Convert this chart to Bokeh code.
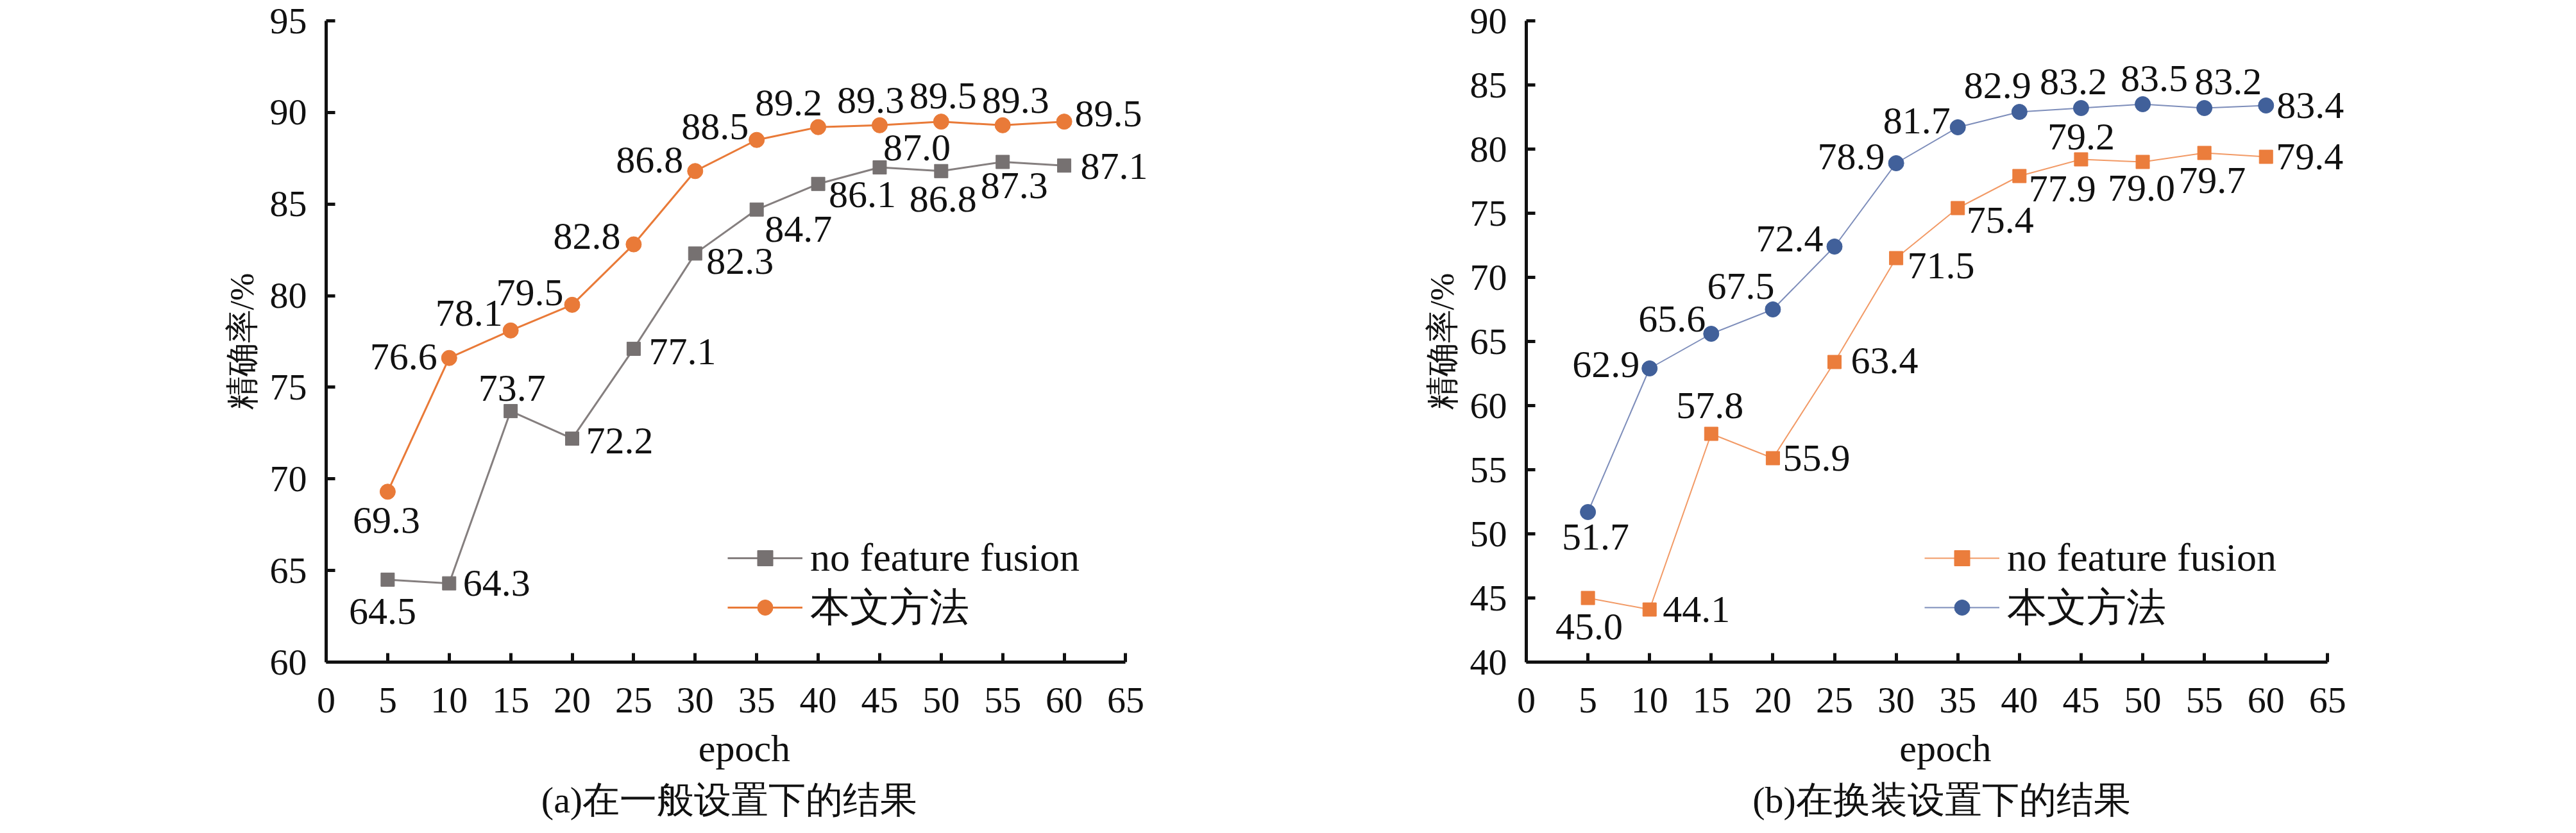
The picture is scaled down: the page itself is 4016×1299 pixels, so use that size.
from bokeh.plotting import figure
from bokeh.models import (Range1d, FixedTicker, ColumnDataSource, LabelSet, Legend,
                          LegendItem, Div, Spacer)
from bokeh.layouts import row, column
from bokeh.embed import file_html
from bokeh.resources import INLINE
from bokeh.core.properties import value

# ---------------- data ----------------
epochs = [5, 10, 15, 20, 25, 30, 35, 40, 45, 50, 55, 60]
a_no_fusion = [64.5, 64.3, 73.7, 72.2, 77.1, 82.3, 84.7, 86.1, 87.0, 86.8, 87.3, 87.1]
a_ours = [69.3, 76.6, 78.1, 79.5, 82.8, 86.8, 88.5, 89.2, 89.3, 89.5, 89.3, 89.5]
b_no_fusion = [45.0, 44.1, 57.8, 55.9, 63.4, 71.5, 75.4, 77.9, 79.2, 79.0, 79.7, 79.4]
b_ours = [51.7, 62.9, 65.6, 67.5, 72.4, 78.9, 81.7, 82.9, 83.2, 83.5, 83.2, 83.4]
x_ticks = [0, 5, 10, 15, 20, 25, 30, 35, 40, 45, 50, 55, 60, 65]
a_y_ticks = [60, 65, 70, 75, 80, 85, 90, 95]
b_y_ticks = [40, 45, 50, 55, 60, 65, 70, 75, 80, 85, 90]
series_names = ["no feature fusion", "本文方法"]
captions = ["(a)在一般设置下的结果", "(b)在换装设置下的结果"]
x_title = "epoch"
y_title = "精确率/%"

# ---------------- label placement (screen px: dx right, dy down) ----------------
a_no_fusion_dx = [-8, 74, 2, 74, 76, 70, 65, 69, 58, 3, 18, 78]
a_no_fusion_dy = [50, 0, -36, 4, 5, 12, 31, 17, -31, 44, 37, 1]
a_ours_dx = [-2, -71, -65, -66, -73, -71, -65, -46, -14, 3, 20, 69]
a_ours_dy = [45, -2, -27, -19, -13, -17, -21, -38, -39, -40, -39, -12]
b_no_fusion_dx = [2, 73, -2, 68, 78, 70, 66, 67, 0, -2, 12, 68]
b_no_fusion_dy = [45, 0, -44, 0, -2, 12, 19, 20, -35, 41, 43, 0]
b_ours_dx = [12, -68, -61, -50, -70, -70, -64, -34, -12, 18, 37, 69]
b_ours_dy = [39, -6, -23, -36, -12, -10, -10, -41, -41, -40, -41, 0]

FONT = "Liberation Serif"
NUM_SIZE = "60px"
TICK_SIZE = "58px"


def make_panel(y_lo, y_hi, y_ticks, s1, s2, dx1, dy1, dx2, dy2, style1, style2,
               borders, legend_x, legend_ys):
    p = figure(width=2000, height=1237, output_backend="svg", toolbar_location=None,
               x_range=Range1d(0, 68), y_range=Range1d(y_lo, y_hi),
               min_border_left=borders[0], min_border_right=borders[1],
               min_border_top=borders[2], min_border_bottom=borders[3])
    p.outline_line_color = None
    p.xgrid.visible = False
    p.ygrid.visible = False
    p.background_fill_color = "white"

    for ax, ticks in ((p.xaxis[0], x_ticks), (p.yaxis[0], y_ticks)):
        ax.ticker = FixedTicker(ticks=ticks)
        ax.minor_tick_line_color = None
        ax.major_tick_in = 14
        ax.major_tick_out = 0
        ax.major_tick_line_width = 5
        ax.axis_line_width = 5
        ax.axis_line_color = "#111111"
        ax.major_tick_line_color = "#111111"
        ax.major_label_text_font = FONT
        ax.major_label_text_font_size = TICK_SIZE
        ax.major_label_text_color = "#111111"
        ax.axis_label_text_font = FONT
        ax.axis_label_text_font_style = "normal"
        ax.axis_label_text_color = "#111111"
    p.xaxis.bounds = (0, 65)
    p.xaxis.major_label_standoff = 40
    p.yaxis.major_label_standoff = 30
    p.xaxis.axis_label = x_title
    p.xaxis.axis_label_text_font_size = "60px"
    p.xaxis.axis_label_standoff = 20
    p.yaxis.axis_label = y_title
    p.yaxis.axis_label_text_font_size = "52px"
    p.yaxis.axis_label_standoff = 12

    renderers = []
    for ys, dxs, dys, st in ((s1, dx1, dy1, style1), (s2, dx2, dy2, style2)):
        src = ColumnDataSource(dict(x=epochs, y=ys, lab=["%.1f" % v for v in ys],
                                    dx=dxs, dy=[-d for d in dys]))
        ln = p.line("x", "y", source=src, line_color=st["line"], line_width=st["lw"])
        if st["marker"] == "square":
            mk = p.scatter("x", "y", source=src, marker="square", size=21,
                           fill_color=st["color"], line_color=st["color"])
        else:
            mk = p.scatter("x", "y", source=src, marker="circle", size=24,
                           fill_color=st["color"], line_color=st["color"])
        renderers.append([ln, mk])
        labels = LabelSet(x="x", y="y", text="lab", source=src, x_offset="dx", y_offset="dy",
                          text_align="center", text_baseline="middle",
                          text_font=value(FONT), text_font_size=value(NUM_SIZE),
                          text_color="#111111")
        p.add_layout(labels)

    for name, rends, ly in zip(series_names, renderers, legend_ys):
        legend = Legend(items=[LegendItem(label=name, renderers=rends)],
                        location=(legend_x, ly), glyph_width=117, glyph_height=60,
                        label_height=56, label_standoff=12, spacing=0, padding=0, margin=0,
                        border_line_alpha=0, background_fill_alpha=0,
                        label_text_font=FONT, label_text_font_size="62px",
                        label_text_color="#111111")
        p.add_layout(legend)
    return p


def caption_div(text, w):
    return Div(text=text, width=w, height=46,
               styles={"font-family": FONT, "font-size": "58px", "line-height": "12px",
                       "text-align": "center", "color": "#111111", "white-space": "nowrap",
                       "overflow": "visible"})


left = make_panel(60, 95, a_y_ticks, a_no_fusion, a_ours,
                  a_no_fusion_dx, a_no_fusion_dy, a_ours_dx, a_ours_dy,
                  dict(color="#767171", line="#857f7f", lw=3, marker="square"),
                  dict(color="#E97A38", line="#E97A38", lw=3, marker="circle"),
                  (508, 188, 26, 205), 626, (127, 43))
right = make_panel(40, 90, b_y_ticks, b_no_fusion, b_ours,
                   b_no_fusion_dx, b_no_fusion_dy, b_ours_dx, b_ours_dy,
                   dict(color="#EB7D3C", line="#F29A66", lw=2, marker="square"),
                   dict(color="#41609A", line="#7D8DBA", lw=2, marker="circle"),
                   (379, 314, 32, 204), 621, (127, 43))

caps = row(Spacer(width=732, height=46), caption_div(captions[0], 800),
           Spacer(width=1080, height=46), caption_div(captions[1], 800))
layout = column(row(left, right), caps)
open("out.html", "w").write(file_html(layout, INLINE))
